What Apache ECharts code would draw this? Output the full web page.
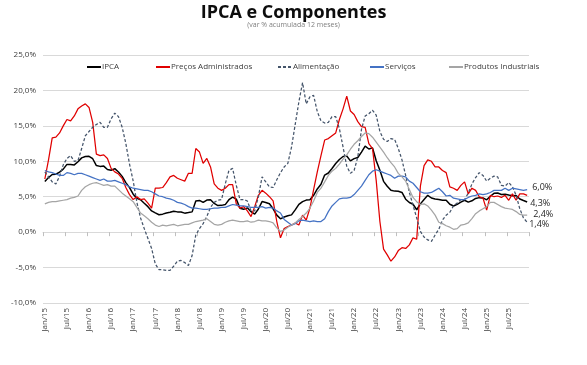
<!DOCTYPE html>
<html>
<head>
<meta charset="utf-8">
<script src="https://cdn.jsdelivr.net/npm/echarts@6/dist/echarts.min.js"></script>
<style>html,body{margin:0;padding:0;background:#fff}#c{width:587px;height:365px}</style>
</head>
<body>
<div id="c"></div>
<script>
const years = [15,16,17,18,19,20,21,22,23,24,25];
const monthNames = ['Jan','Fev','Mar','Abr','Mai','Jun','Jul','Ago','Set','Out','Nov','Dez'];
const categories = [];
years.forEach(y => monthNames.forEach(m => categories.push(m + '/' + y)));

const ipca = [
7.14,7.70,8.13,8.17,8.47,8.89,9.56,9.53,9.49,9.93,10.48,10.67,
10.71,10.36,9.39,9.28,9.32,8.84,8.74,8.97,8.48,7.87,6.99,6.29,
5.35,4.76,4.57,4.08,3.60,3.00,2.71,2.46,2.54,2.70,2.80,2.95,
2.86,2.84,2.68,2.76,2.86,4.39,4.48,4.19,4.53,4.56,4.05,3.75,
3.78,3.89,4.58,4.94,4.66,3.37,3.22,3.43,2.89,2.54,3.27,4.31,
4.19,4.01,3.30,2.40,1.88,2.13,2.31,2.44,3.14,3.92,4.31,4.52,
4.56,5.20,6.10,6.76,8.06,8.35,8.99,9.68,10.25,10.67,10.74,10.06,
10.38,10.54,11.30,12.13,11.73,11.89,10.07,8.73,7.17,6.47,5.90,5.79,
5.77,5.60,4.65,4.18,3.94,3.16,3.99,4.61,5.19,4.82,4.68,4.62,
4.51,4.50,3.93,3.69,3.93,4.23,4.50,4.24,4.42,4.76,4.87,4.83,
4.56,5.06,5.48,5.53,5.32,5.35,5.23,5.13,5.17,4.68,4.46,4.26];

const administrados = [
7.5,10.2,13.3,13.4,14.0,15.0,15.9,15.7,16.4,17.4,17.8,18.1,
17.6,15.5,11.0,10.8,10.9,10.4,9.0,8.5,8.2,7.6,6.3,5.3,
4.6,5.0,4.6,4.7,4.1,3.4,6.2,6.2,6.3,7.0,7.8,8.0,
7.6,7.4,7.2,8.3,8.3,11.8,11.3,9.7,10.4,9.2,6.8,6.2,
5.9,6.2,6.7,6.7,4.0,3.4,3.6,3.0,2.2,3.6,5.2,5.9,
5.5,5.0,4.4,1.5,-0.8,0.5,0.8,1.0,1.3,1.0,2.4,1.7,
3.4,6.0,8.5,10.8,13.0,13.2,13.6,14.0,15.9,17.4,19.2,17.1,
16.6,15.6,14.9,14.8,12.5,11.8,7.3,1.5,-2.4,-3.2,-4.1,-3.5,
-2.6,-2.2,-2.3,-1.8,-0.8,-1.0,6.5,9.4,10.2,10.0,9.2,9.2,
8.7,8.4,6.4,6.2,5.9,6.6,7.1,5.4,6.2,5.9,5.0,4.8,
3.1,5.2,5.0,5.1,4.9,5.2,4.5,5.4,4.5,5.4,5.4,5.2];

const alimentacao = [
8.5,7.8,7.1,6.8,7.9,9.5,10.4,10.8,10.0,10.1,11.8,13.6,
14.2,14.8,15.2,15.5,14.8,14.8,16.0,16.8,16.3,14.8,12.5,9.6,
7.2,4.2,2.0,0.5,-0.9,-2.3,-4.5,-5.3,-5.3,-5.4,-5.4,-4.8,
-4.1,-4.0,-4.3,-4.7,-3.3,-0.4,0.5,1.2,2.2,3.5,4.2,4.5,
4.6,6.8,8.7,9.0,6.6,4.6,4.6,4.4,3.0,3.0,5.0,7.8,
7.1,6.4,6.3,7.4,8.4,9.2,9.7,12.0,15.2,18.4,21.1,18.1,
19.1,19.3,17.0,15.7,15.4,15.5,16.3,16.3,14.6,12.0,9.3,8.3,
8.7,10.6,14.5,16.4,16.7,17.2,16.5,14.2,13.1,12.8,13.2,13.1,
11.8,10.2,8.0,5.6,3.8,2.0,0.1,-0.7,-1.1,-1.3,-0.4,0.4,
1.7,2.4,2.8,3.7,4.1,4.6,4.6,5.5,6.8,7.7,8.4,8.0,
7.2,7.6,7.9,7.8,6.6,6.5,7.0,6.4,5.2,3.3,2.0,1.4];

const servicos = [
8.7,8.5,8.4,8.2,8.0,8.0,8.4,8.3,8.1,8.3,8.3,8.1,
7.9,7.7,7.5,7.3,7.5,7.2,7.2,7.3,7.1,6.9,6.7,6.4,
6.2,6.1,6.0,5.9,5.9,5.7,5.4,5.1,5.0,4.8,4.7,4.5,
4.2,4.1,3.9,3.6,3.4,3.4,3.3,3.2,3.2,3.3,3.4,3.4,
3.5,3.5,3.7,3.9,3.8,3.7,3.7,3.6,3.5,3.5,3.5,3.6,
3.4,3.5,3.4,3.0,2.7,1.8,1.4,1.0,1.2,1.6,1.7,1.6,
1.5,1.6,1.5,1.5,1.9,2.9,3.7,4.2,4.7,4.8,4.8,4.9,
5.3,5.9,6.5,7.3,8.1,8.6,8.8,8.6,8.4,8.2,8.0,7.6,
7.9,7.9,7.8,7.2,6.9,6.3,5.7,5.5,5.5,5.6,5.9,6.2,
5.7,5.1,5.2,4.8,4.7,4.6,4.6,4.9,5.1,5.2,5.4,5.3,
5.4,5.6,5.9,5.9,5.9,6.2,5.9,6.2,6.1,6.0,5.9,6.0];

const industriais = [
4.0,4.2,4.3,4.3,4.4,4.5,4.6,4.8,4.9,5.1,5.9,6.4,
6.7,6.9,7.0,6.8,6.6,6.7,6.5,6.5,6.0,5.5,5.1,4.7,
4.3,3.5,2.7,2.3,1.9,1.4,1.0,0.8,1.0,0.9,1.0,1.1,
0.9,1.0,1.1,1.1,1.3,1.5,1.6,1.7,1.9,1.5,1.1,1.0,
1.1,1.4,1.6,1.7,1.6,1.5,1.5,1.6,1.4,1.5,1.7,1.6,
1.6,1.5,1.3,0.6,0.1,0.3,0.7,1.0,1.3,1.8,2.2,2.7,
3.4,4.4,5.6,6.2,7.1,8.0,8.6,9.0,9.6,10.3,10.9,11.7,
12.4,12.9,13.5,14.0,13.9,13.4,12.7,12.0,11.3,10.5,9.8,9.2,
8.3,7.8,7.2,6.0,4.9,4.3,3.9,4.0,3.7,3.1,2.4,1.4,
1.2,0.9,0.7,0.4,0.5,1.0,1.1,1.3,1.9,2.6,3.0,3.3,
3.6,4.2,4.2,3.9,3.6,3.4,3.3,3.2,2.9,2.5,2.4,2.4];

const yTicks = [-10, -5, 0, 5, 10, 15, 20, 25];
const seriesNames = ['IPCA', 'Preços Administrados', 'Alimentação', 'Serviços', 'Produtos Industriais'];

const fmt = v => v.toFixed(1).replace('.', ',') + '%';
const FONT = 'Open Sans, Liberation Sans, sans-serif';

function mkSeries(name, data, color, width, type, endOff) {
  const s = {
    name: name, type: 'line', data: data, xAxisIndex: 0,
    symbol: 'none', smooth: false,
    lineStyle: { color: color, width: width, type: type },
    itemStyle: { color: color },
    emphasis: { disabled: true }
  };
  if (endOff) {
    s.endLabel = {
      show: true, distance: 2, offset: endOff,
      formatter: p => fmt(p.value),
      color: '#262626', fontSize: 9, fontFamily: FONT
    };
  }
  return s;
}

const legendLefts = [86, 155, 277, 369, 448];
const legends = seriesNames.map((n, k) => ({
  top: 63, left: legendLefts[k], itemWidth: 14, itemHeight: 8, itemGap: 0, padding: 0,
  itemStyle: { opacity: 0 },
  textStyle: { fontSize: 8, color: '#404040', fontFamily: FONT, padding: [0, 0, 0, -4] },
  data: [n]
}));

const chart = echarts.init(document.getElementById('c'), null, { renderer: 'canvas' });
chart.setOption({
  animation: false,
  backgroundColor: '#ffffff',
  title: [
    { text: 'IPCA e Componentes', left: 'center', top: -1,
      textStyle: { fontSize: 18, fontWeight: 'bold', color: '#0d0d0d', fontFamily: FONT } },
    { text: '(var % acumulada 12 meses)', left: 'center', top: 16,
      textStyle: { fontSize: 7, fontWeight: 'normal', color: '#7f7f7f', fontFamily: FONT } }
  ],
  legend: legends,
  grid: { left: 43, right: 58, top: 55, bottom: 62 },
  xAxis: [
    { type: 'category', data: categories, boundaryGap: true, position: 'bottom',
      axisLine: { show: false, onZero: false }, axisTick: { show: false },
      axisLabel: { interval: 5, rotate: 90, fontSize: 8, color: '#404040', margin: 5, fontFamily: FONT },
      splitLine: { show: false } },
    { type: 'category', data: categories, boundaryGap: true, position: 'bottom',
      axisLine: { show: true, onZero: true, lineStyle: { color: '#d9d9d9', width: 1 } },
      axisTick: { show: true, interval: 5, length: 4, lineStyle: { color: '#bfbfbf' } },
      axisLabel: { show: false }, splitLine: { show: false } }
  ],
  yAxis: {
    type: 'value', min: yTicks[0], max: yTicks[yTicks.length - 1], interval: 5,
    axisLine: { show: false }, axisTick: { show: false },
    axisLabel: { formatter: fmt, fontSize: 8, color: '#404040', margin: 7, fontFamily: FONT },
    splitLine: { lineStyle: { color: '#d9d9d9', width: 1 } }
  },
  series: [
    mkSeries(seriesNames[0], ipca, '#000000', 1.5, 'solid', [1, 1.5]),
    mkSeries(seriesNames[1], administrados, '#e00000', 1.25, 'solid', null),
    mkSeries(seriesNames[2], alimentacao, '#44546a', 1.25, [3, 2], [0, 2]),
    mkSeries(seriesNames[3], servicos, '#4472c4', 1.25, 'solid', [3, -2]),
    mkSeries(seriesNames[4], industriais, '#a5a5a5', 1.25, 'solid', [4, -1])
  ]
});
</script>
</body>
</html>
